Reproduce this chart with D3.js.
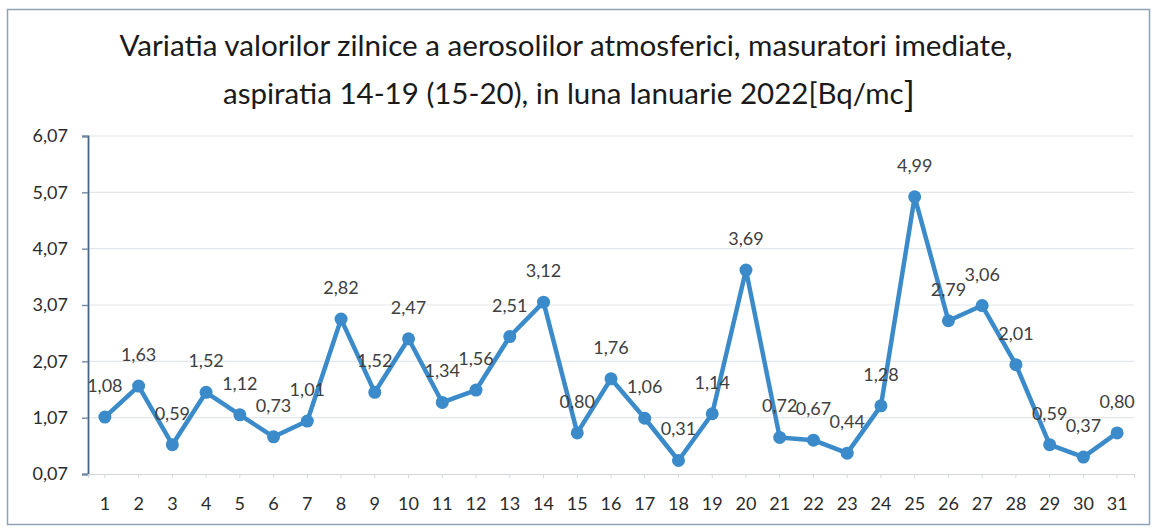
<!DOCTYPE html>
<html>
<head>
<meta charset="utf-8">
<script src="https://cdn.jsdelivr.net/npm/d3@7"></script>
<style>
  html, body { margin: 0; padding: 0; background: #ffffff; }
  svg { display: block; }
</style>
</head>
<body>
<svg id="chart" width="1155" height="529"></svg>
<script>
const days = ["1","2","3","4","5","6","7","8","9","10","11","12","13","14","15","16","17","18","19","20","21","22","23","24","25","26","27","28","29","30","31"];
const values = [1.08,1.63,0.59,1.52,1.12,0.73,1.01,2.82,1.52,2.47,1.34,1.56,2.51,3.12,0.80,1.76,1.06,0.31,1.14,3.69,0.72,0.67,0.44,1.28,4.99,2.79,3.06,2.01,0.59,0.37,0.80];
const yTicks = [0.07,1.07,2.07,3.07,4.07,5.07,6.07];
const titleLine1 = "Variatia valorilor zilnice a aerosolilor atmosferici, masuratori imediate,";
const titleLine2 = "aspiratia 14-19 (15-20),  in luna Ianuarie 2022[Bq/mc";
const titleClose = "]";

const svg = d3.select("#chart");
const plotLeft = 88, plotRight = 1134, plotTop = 136, plotBottom = 474;
const fmt = v => v.toFixed(2).replace(".", ",");
const FONT = "Lato, 'Open Sans', sans-serif";

// chart border
svg.append("rect").attr("x", 7.5).attr("y", 9.5).attr("width", 1142).attr("height", 515)
  .attr("fill", "#ffffff").attr("stroke", "#8fa3b8").attr("stroke-width", 1.5);

const x = d3.scaleBand().domain(days).range([plotLeft, plotRight]);
const y = d3.scaleLinear().domain([0.07, 6.07]).range([plotBottom, plotTop]);

// gridlines
svg.append("g").selectAll("line").data(yTicks.slice(1)).join("line")
  .attr("x1", plotLeft).attr("x2", plotRight)
  .attr("y1", d => y(d)).attr("y2", d => y(d))
  .attr("stroke", "#e3e6ea").attr("stroke-width", 1.2);

// y axis
const yAxis = svg.append("g").attr("transform", `translate(${plotLeft},0)`)
  .call(d3.axisLeft(y).tickValues(yTicks).tickFormat(fmt).tickSize(6).tickPadding(14));
yAxis.select(".domain").attr("stroke", "#45658a").attr("stroke-width", 1.8);
yAxis.selectAll(".tick line").attr("stroke", "#6f8aa5").attr("stroke-width", 1.4);
yAxis.selectAll("text").attr("font-family", FONT)
  .attr("font-size", 18).attr("fill", "#2b2b2b");

// x axis
const xAxis = svg.append("g").attr("transform", `translate(0,${plotBottom})`)
  .call(d3.axisBottom(x).tickSize(4).tickPadding(19));
xAxis.select(".domain").attr("stroke", "#d4d8dd").attr("stroke-width", 1.2);
xAxis.selectAll(".tick line").attr("stroke", "#d4d8dd");
xAxis.selectAll("text").attr("font-family", FONT)
  .attr("font-size", 18).attr("fill", "#2b2b2b");

const data = days.map((d, i) => ({ day: d, v: values[i] }));
const cx = d => x(d.day) + x.bandwidth() / 2;

// line
svg.append("path").datum(data)
  .attr("fill", "none").attr("stroke", "#3b8bcb").attr("stroke-width", 4.5)
  .attr("stroke-linejoin", "round")
  .attr("d", d3.line().x(cx).y(d => y(d.v)));

// markers
svg.append("g").selectAll("circle").data(data).join("circle")
  .attr("cx", cx).attr("cy", d => y(d.v)).attr("r", 6.5)
  .attr("fill", "#3b8bcb");

// data labels
svg.append("g").selectAll("text").data(data).join("text")
  .attr("x", cx).attr("y", d => y(d.v) - 25)
  .attr("text-anchor", "middle")
  .attr("font-family", FONT)
  .attr("font-size", 18).attr("fill", "#404040")
  .text(d => fmt(d.v));

// title
svg.append("text")
  .attr("x", 566).attr("y", 56).attr("text-anchor", "middle")
  .attr("font-family", FONT).attr("font-size", 28).attr("fill", "#1a1a1a")
  .attr("textLength", 893).attr("lengthAdjust", "spacingAndGlyphs")
  .text(titleLine1);
const t2 = svg.append("text")
  .attr("x", 569).attr("y", 104).attr("text-anchor", "middle")
  .attr("font-family", FONT).attr("font-size", 28).attr("fill", "#1a1a1a")
  .attr("textLength", 692).attr("lengthAdjust", "spacingAndGlyphs");
t2.append("tspan").text(titleLine2);
t2.append("tspan").attr("font-size", 35).attr("dy", 3).text(titleClose);
</script>
</body>
</html>
